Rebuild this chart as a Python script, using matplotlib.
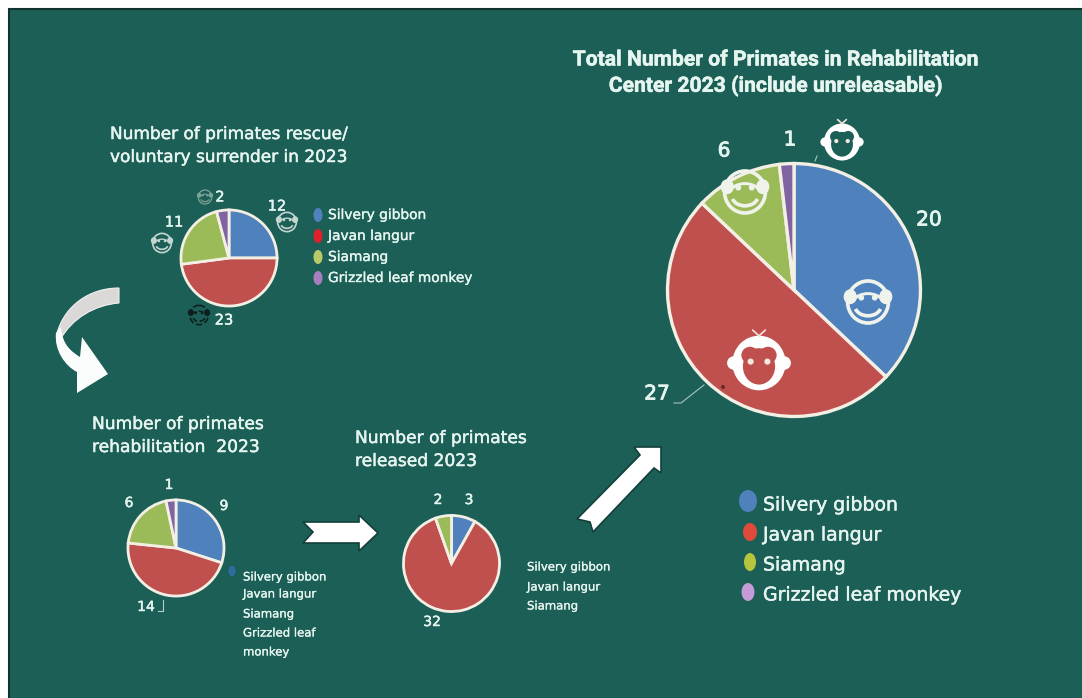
import matplotlib
matplotlib.use("Agg")
import matplotlib.pyplot as plt
import matplotlib.patheffects as pe
from matplotlib.patches import Circle, Ellipse, Polygon, PathPatch, Rectangle, Arc
from matplotlib.path import Path

W, H = 1082, 698
BG = "#1B5F56"
TXT = "#E6F5F0"
COLORS = ["#4F81BD", "#C0504D", "#9BBB59", "#8064A2"]
EDGE = "#F3EFE4"

species = ["Silvery gibbon", "Javan langur", "Siamang", "Grizzled leaf monkey"]
rescued = [12, 23, 11, 2]
rehabilitated = [9, 14, 6, 1]
released = [3, 32, 2]
total = [20, 27, 6, 1]

plt.rcParams["font.family"] = ["DejaVu Sans"]
fig = plt.figure(figsize=(W / 100, H / 100), dpi=100, facecolor="white")
ov = fig.add_axes([0, 0, 1, 1], zorder=1)
ov.set_xlim(0, W)
ov.set_ylim(H, 0)
ov.axis("off")
ov.add_patch(Rectangle((8.5, 8.5), W, H, fc=BG, ec="#10332E", lw=1.5))
top = fig.add_axes([0, 0, 1, 1], zorder=5)
top.set_xlim(0, W)
top.set_ylim(H, 0)
top.axis("off")
top.patch.set_alpha(0)


def pie(values, cx, cy, r, lw=2.0):
    ax = fig.add_axes([(cx - r) / W, 1 - (cy + r) / H, 2 * r / W, 2 * r / H], zorder=3)
    ax.pie(values, colors=COLORS[:len(values)], startangle=90, counterclock=False, radius=1.0,
           wedgeprops=dict(edgecolor=EDGE, linewidth=lw))
    ax.set_xlim(-1.02, 1.02)
    ax.set_ylim(-1.02, 1.02)
    ax.set_aspect("auto")


pie(rescued, 229, 258, 49)
pie(rehabilitated, 176, 548, 49)
pie(released, 451.5, 563.5, 49)
pie(total, 794, 290, 129, 2.4)


def t(x, y, s, size=11, weight="normal", ha="left", family="DejaVu Sans", color=TXT, bold=0.35):
    top.text(x, y, s, fontsize=size, fontweight=weight, ha=ha, va="center", color=color, family=family,
             path_effects=[pe.withStroke(linewidth=bold, foreground=color)])


# Titles
t(110, 134, "Number of primates rescue/", 12.2)
t(110, 157, "voluntary surrender in 2023", 12.2)
t(92, 424, "Number of primates", 12.3)
t(92, 447, "rehabilitation  2023", 12.3)
t(355, 438, "Number of primates", 12.3)
t(355, 461, "released 2023", 12.3)
t(776, 60, "Total Number of Primates in Rehabilitation", 15.2, "bold", "center", "Roboto")
t(776, 86, "Center 2023 (include unreleasable)", 15.2, "bold", "center", "Roboto")

# Value labels
for x, y, v in [(277, 206, rescued[0]), (224, 320, rescued[1]), (174, 222, rescued[2]), (220, 197, rescued[3])]:
    t(x, y, str(v), 10.5, ha="center")
for x, y, v in [(224, 506, rehabilitated[0]), (146, 607, rehabilitated[1]), (129, 503, rehabilitated[2]), (169, 485, rehabilitated[3])]:
    t(x, y, str(v), 10, ha="center")
for x, y, v in [(469, 500, released[0]), (432, 622, released[1]), (438, 500, released[2])]:
    t(x, y, str(v), 10, ha="center")
for x, y, v in [(929, 220, total[0]), (657, 394, total[1]), (724, 151, total[2]), (790, 140, total[3])]:
    t(x, y, str(v), 14.5, ha="center", bold=0.6)

# Leader lines
top.plot([158, 163, 163], [611, 611, 600], color="#B8CFC9", lw=0.8)
top.plot([674, 681, 704], [403, 403, 385], color="#A9C4BD", lw=0.8)
top.plot([815, 817], [161, 156], color="#A9C4BD", lw=0.8)
top.add_patch(Circle((723, 387), 2, fc="#6B2B28", ec="none"))

# Small legend, rescued
for y, s, c in zip([215, 236, 257, 278], species, ["#4F81BD", "#E0202A", "#B8C96A", "#A77FC0"]):
    top.add_patch(Ellipse((318, y), 9, 14, fc=c, ec="none"))
    t(328, y, s, 9.9, bold=0.25)
# Legend, rehabilitated
top.add_patch(Ellipse((232, 571), 7, 11, fc="#2F6CA0", ec="none"))
for y, s in zip([577, 594, 614, 633, 652], ["Silvery gibbon", "Javan langur", "Siamang", "Grizzled leaf", "monkey"]):
    t(243, y, s, 8.4, bold=0.2)
# Legend, released
for y, s in zip([567, 587, 606], species[:3]):
    t(527, y, s, 8.4, bold=0.2)
# Large legend
for x, y, s, c, rx, ry in zip([748, 750, 750, 748], [505, 535, 565, 595], species,
                              ["#4F81BD", "#E04A3A", "#B5C53E", "#C79AD8"],
                              [18, 14, 12, 13], [22, 18, 18, 18]):
    top.add_patch(Ellipse((x, y - 4 if s == species[0] else y - 3), rx, ry, fc=c, ec="none"))
    t(763, y, s, 13.6)

# Block arrows
ARW = "#FFFFFF"
OUT = "#123F39"
top.add_patch(Polygon([(303, 522), (313, 532), (303, 543), (359, 543), (359, 551), (378, 533),
                       (359, 515), (359, 522)], fc=ARW, ec=OUT, lw=1.2))
top.add_patch(Polygon([(577, 519), (590, 522), (593, 532), (654, 468), (661, 473), (661, 447),
                       (634, 447), (640, 455)], fc=ARW, ec=OUT, lw=1.2))

# Curved arrow
MV, CV, CL = Path.MOVETO, Path.CURVE4, Path.CLOSEPOLY
LN = Path.LINETO
grey = Path([(119, 288), (90, 288), (65, 305), (57, 333), (60, 340), (72, 318), (95, 305), (119, 303), (119, 288), (119, 288)],
            [MV, CV, CV, CV, LN, CV, CV, CV, LN, CL])
top.add_patch(PathPatch(grey, fc="#DAD9D7", ec="#F2F2F0", lw=0.8))
white = Path([(56, 333), (54, 350), (65, 366), (77, 372), (77, 393), (108, 374), (82, 337), (80, 357),
              (72, 352), (62, 345), (61, 327), (56, 333)],
             [MV, CV, CV, CV, LN, LN, LN, LN, CV, CV, CV, CL])
top.add_patch(PathPatch(white, fc="#FBFDFC", ec="none"))


def adult(cx, cy, s, line="#EFF3EC", alpha=1.0, ls="-"):
    """Monkey face: s is half the overall width."""
    lw = max(0.8, s * 0.11)
    kw = dict(alpha=alpha)
    for sx in (-1, 1):
        top.add_patch(Ellipse((cx + sx * 0.74 * s, cy - 0.22 * s), 0.55 * s, 0.62 * s, fc=line, ec="none", **kw))
    top.add_patch(Ellipse((cx, cy), 1.7 * s, 1.75 * s, fc="none", ec=line, lw=lw, ls=ls, **kw))
    top.add_patch(Arc((cx, cy + 0.1 * s), 1.3 * s, 0.9 * s, theta1=195, theta2=345, ec=line, lw=lw * 0.8, ls=ls, **kw))
    for sx in (-1, 1):
        top.add_patch(Circle((cx + sx * 0.28 * s, cy - 0.18 * s), 0.12 * s, fc=line, ec="none", **kw))
    top.add_patch(Arc((cx, cy + 0.15 * s), 1.1 * s, 0.85 * s, theta1=15, theta2=165, ec=line, lw=lw, ls=ls, **kw))


def baby(cx, cy, s, face):
    for sx in (-1, 1):
        top.add_patch(Circle((cx + sx * 0.9 * s, cy), 0.24 * s, fc="white", ec="none"))
    top.add_patch(Ellipse((cx, cy), 1.9 * s, 1.95 * s, fc="white", ec="none"))
    top.add_patch(Ellipse((cx, cy + 0.12 * s), 1.15 * s, 1.3 * s, fc=face, ec="none"))
    for sx in (-1, 1):
        top.add_patch(Ellipse((cx + sx * 0.32 * s, cy - 0.28 * s), 0.62 * s, 0.6 * s, fc=face, ec="none"))
        top.add_patch(Circle((cx + sx * 0.3 * s, cy - 0.05 * s), 0.11 * s, fc="#F7E8E0", ec="none"))
        top.plot([cx, cx + sx * 0.22 * s], [cy - 0.97 * s, cy - 1.17 * s], color="#F4E4DC", lw=1.2)


adult(868, 302, 24)
adult(745, 192, 24)
baby(759, 363, 28, COLORS[1])
baby(842, 142, 19, BG)
adult(287, 222, 11, "#C4D5D0")
adult(162, 243, 11, "#C4D5D0")
adult(205, 197, 8, "#7FA59B")
adult(199, 315, 11, "#0C1F1C", ls="--")

fig.savefig("out.png", dpi=100, facecolor="white")
